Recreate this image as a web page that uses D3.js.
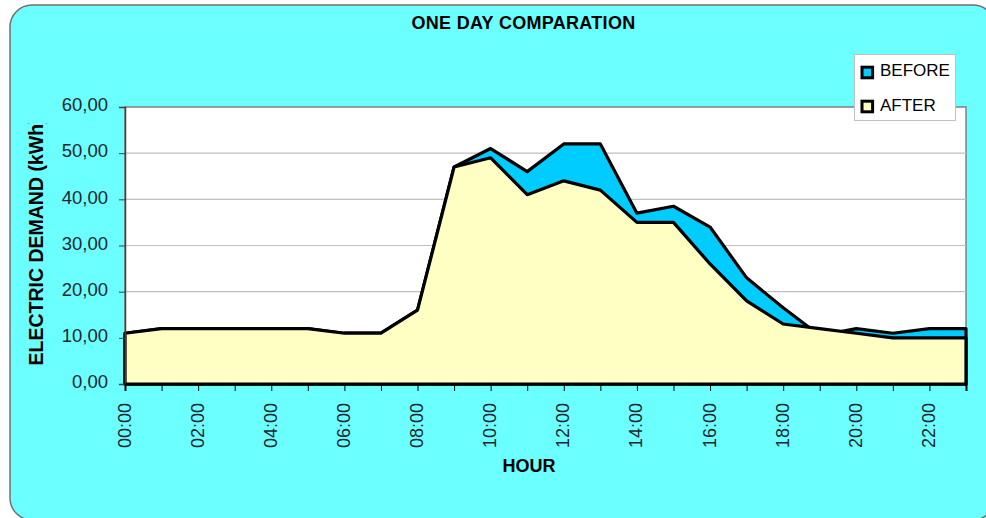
<!DOCTYPE html>
<html>
<head>
<meta charset="utf-8">
<script src="https://cdn.jsdelivr.net/npm/d3@7"></script>
<style>
  html, body { margin: 0; padding: 0; background: #ffffff; }
  svg { display: block; }
</style>
</head>
<body>
<svg id="chart" width="986" height="518"></svg>
<script>
const hours = ["00:00","01:00","02:00","03:00","04:00","05:00","06:00","07:00","08:00","09:00","10:00","11:00",
               "12:00","13:00","14:00","15:00","16:00","17:00","18:00","19:00","20:00","21:00","22:00","23:00"];
const beforeValues = [11,12,12,12,12,12,11,11,16,47,51,46,52,52,37,38.5,34,23,16.5,10.5,12,11,12,12];
const afterValues  = [11,12,12,12,12,12,11,11,16,47,49,41,44,42,35,35,26,18,13,12,11,10,10,10];
const yTicks = [0,10,20,30,40,50,60];
const seriesNames = ["BEFORE","AFTER"];
const seriesColors = ["#00CCFF","#FFFFC4"];

const svg = d3.select("#chart");
const L = 125, R = 966, T = 107, B = 384;

// panel background
svg.append("rect").attr("x",10).attr("y",5).attr("width",985).attr("height",515)
  .attr("rx",22).attr("ry",22)
  .attr("fill","#6CFFFF").attr("stroke","#707070").attr("stroke-width",1.5);

const x = d3.scalePoint().domain(hours).range([L, R]);
const y = d3.scaleLinear().domain([0, 60]).range([B, T]);

// plot area
svg.append("rect").attr("x",L).attr("y",T).attr("width",R-L).attr("height",B-T)
  .attr("fill","#ffffff").attr("stroke","#808080").attr("stroke-width",1.5);

// gridlines
svg.append("g").selectAll("line").data(yTicks.filter(d => d > 0 && d < 60)).join("line")
  .attr("x1",L).attr("x2",R).attr("y1",d=>y(d)).attr("y2",d=>y(d))
  .attr("stroke","#c0c0c0").attr("stroke-width",1.2);

const area = d3.area().x((d,i)=>x(hours[i])).y0(y(0)).y1(d=>y(d));
[beforeValues, afterValues].forEach((vals, k) => {
  svg.append("path").datum(vals).attr("d", area)
    .attr("fill", seriesColors[k]).attr("stroke","#000").attr("stroke-width",3.2)
    .attr("stroke-linejoin","round");
});

// y axis
const yAxis = svg.append("g").attr("transform",`translate(${L},0)`)
  .call(d3.axisLeft(y).tickValues(yTicks).tickSize(6).tickPadding(11)
    .tickFormat(d => d.toFixed(2).replace(".", ",")));
yAxis.select(".domain").attr("stroke","#404040").attr("stroke-width",1.5);
yAxis.selectAll(".tick line").attr("stroke","#404040");
yAxis.selectAll("text").attr("font-family","'Liberation Sans', Arial, sans-serif")
  .attr("font-size",18.5).attr("fill","#1a2630").attr("dy","0.2em");

// x axis
const xAxis = svg.append("g").attr("transform",`translate(0,${B})`)
  .call(d3.axisBottom(x).tickSize(7).tickFormat((d,i)=> i % 2 === 0 ? d : ""));
xAxis.select(".domain").attr("stroke","#000").attr("stroke-width",2);
xAxis.selectAll(".tick line").attr("stroke","#000");
xAxis.selectAll("text")
  .attr("font-family","'Liberation Sans', Arial, sans-serif").attr("font-size",18)
  .attr("fill","#1a2630")
  .attr("transform","rotate(-90)").attr("text-anchor","end")
  .attr("x",-19).attr("y",0).attr("dy","0.28em");

// title
svg.append("text").attr("x",523.5).attr("y",29).attr("text-anchor","middle")
  .attr("font-family","'Liberation Sans', Arial, sans-serif").attr("font-weight","bold")
  .attr("font-size",18).attr("letter-spacing",0.3).attr("fill","#000").text("ONE DAY COMPARATION");

// x axis title
svg.append("text").attr("x",529).attr("y",472).attr("text-anchor","middle")
  .attr("font-family","'Liberation Sans', Arial, sans-serif").attr("font-weight","bold")
  .attr("font-size",18).attr("fill","#000").text("HOUR");

// y axis title (clipped at top as in reference)
svg.append("clipPath").attr("id","ylabclip").append("rect")
  .attr("x",0).attr("y",123.5).attr("width",110).attr("height",400);
svg.append("g").attr("clip-path","url(#ylabclip)")
  .append("text")
  .attr("transform","translate(43,241.5) rotate(-90)").attr("text-anchor","middle")
  .attr("font-family","'Liberation Sans', Arial, sans-serif").attr("font-weight","bold")
  .attr("font-size",19.5).attr("fill","#000").text("ELECTRIC DEMAND (kWh)");

// legend
const lg = svg.append("g");
lg.append("rect").attr("x",854.5).attr("y",54.5).attr("width",101).attr("height",66)
  .attr("fill","#ffffff").attr("stroke","#c0c0c0").attr("stroke-width",1);
const legY = [66, 100];
const legBase = [76, 110.5];
seriesNames.forEach((n,k) => {
  lg.append("rect").attr("x",862).attr("y",legY[k]+1.2).attr("width",10.6).attr("height",10.6)
    .attr("fill",seriesColors[k]).attr("stroke","#000").attr("stroke-width",3);
  lg.append("text").attr("x",880).attr("y",legBase[k])
    .attr("font-family","'Liberation Sans', Arial, sans-serif").attr("font-size",17)
    .attr("fill","#000").text(n);
});
</script>
</body>
</html>
